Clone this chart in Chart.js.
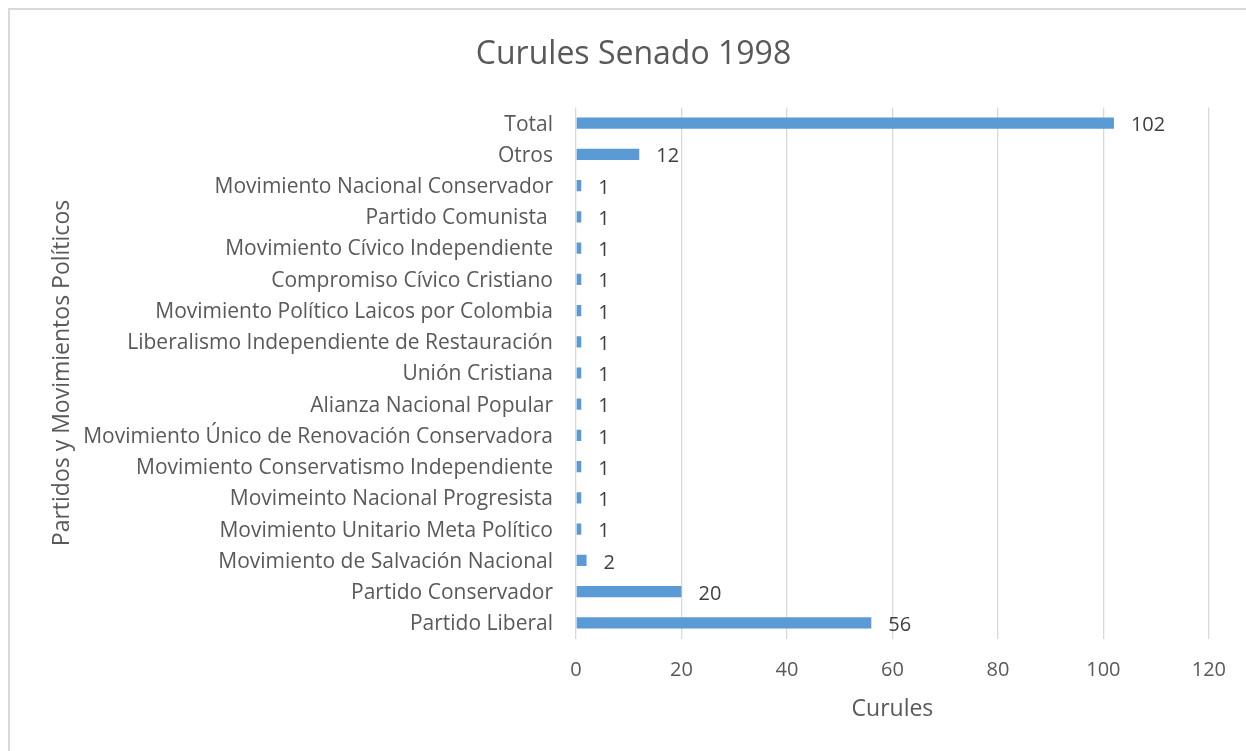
<!DOCTYPE html>
<html lang="es">
<head>
  <meta charset="UTF-8">
  <title>Curules Senado 1998</title>
  <script src="https://cdn.jsdelivr.net/npm/chart.js"></script>
  <style>
    html, body { margin: 0; padding: 0; background: #fff; }
    #wrap { position: relative; width: 1246px; height: 751px; }
  </style>
</head>
<body>
  <div id="wrap"><canvas id="senado" width="1246" height="751"></canvas></div>

  <script>
    // Datos (de arriba hacia abajo, como en la gráfica)
    const partidos = [
      'Total',
      'Otros',
      'Movimiento Nacional Conservador',
      'Partido Comunista ',
      'Movimiento Cívico Independiente',
      'Compromiso Cívico Cristiano',
      'Movimiento Político Laicos por Colombia',
      'Liberalismo Independiente de Restauración',
      'Unión Cristiana',
      'Alianza Nacional Popular',
      'Movimiento Único de Renovación Conservadora',
      'Movimiento Conservatismo Independiente',
      'Movimeinto Nacional Progresista',
      'Movimiento Unitario Meta Político',
      'Movimiento de Salvación Nacional',
      'Partido Conservador',
      'Partido Liberal'
    ];
    const curules = [102, 12, 1, 1, 1, 1, 1, 1, 1, 1, 1, 1, 1, 1, 2, 20, 56];
    const ejeX = { min: 0, max: 120, paso: 20 };

    const fuente = '"Open Sans", "Noto Sans", sans-serif';

    // Marco gris del área del gráfico
    const marco = {
      id: 'marco',
      beforeDraw(chart) {
        const c = chart.ctx;
        c.save();
        c.strokeStyle = '#d9d9d9';
        c.lineWidth = 2;
        c.strokeRect(9, 9, chart.width + 20, chart.height + 20);
        c.restore();
      }
    };

    // Etiquetas de valor al final de cada barra
    const etiquetas = {
      id: 'etiquetas',
      afterDatasetsDraw(chart) {
        const c = chart.ctx;
        const meta = chart.getDatasetMeta(0);
        c.save();
        c.font = '20px ' + fuente;
        c.fillStyle = '#404040';
        c.textAlign = 'left';
        c.textBaseline = 'middle';
        meta.data.forEach((bar, i) => {
          c.fillText(String(curules[i]), bar.x + 17, bar.y + 2.5);
        });
        c.restore();
      }
    };

    new Chart(document.getElementById('senado'), {
      type: 'bar',
      data: {
        labels: partidos,
        datasets: [{
          data: curules,
          backgroundColor: '#5b9bd5',
          borderWidth: 0,
          categoryPercentage: 1,
          barPercentage: 0.36
        }]
      },
      options: {
        indexAxis: 'y',
        responsive: false,
        animation: false,
        layout: { padding: { top: 0, right: 37, bottom: 0, left: 58 } },
        plugins: {
          legend: { display: false },
          tooltip: { enabled: false },
          title: {
            display: true,
            text: 'Curules Senado 1998',
            color: '#595959',
            font: { family: fuente, size: 32, weight: 'normal', lineHeight: 1.2 },
            padding: { top: 36, bottom: 33 }
          }
        },
        scales: {
          x: {
            min: ejeX.min,
            max: ejeX.max,
            ticks: {
              stepSize: ejeX.paso,
              color: '#595959',
              padding: 20,
              font: { family: fuente, size: 20 }
            },
            grid: { color: '#d9d9d9', lineWidth: 1.3, drawTicks: false },
            border: { display: false },
            title: {
              display: true,
              text: 'Curules',
              color: '#595959',
              font: { family: fuente, size: 23, lineHeight: 1.2 },
              padding: { top: 10, bottom: 28 }
            },
            afterFit(scale) { scale.height = 112.4; }
          },
          y: {
            ticks: {
              color: '#595959',
              padding: 23,
              autoSkip: false,
              labelOffset: 1.5,
              font: { family: fuente, size: 21 }
            },
            grid: { display: false, drawTicks: false },
            border: { display: false },
            title: {
              display: true,
              text: 'Partidos y Movimientos Políticos',
              color: '#595959',
              font: { family: fuente, size: 23, lineHeight: 1.2 },
              padding: { top: -9, bottom: 5 }
            },
            afterFit(scale) { scale.width = 518; }
          }
        }
      },
      plugins: [marco, etiquetas]
    });
  </script>
</body>
</html>
